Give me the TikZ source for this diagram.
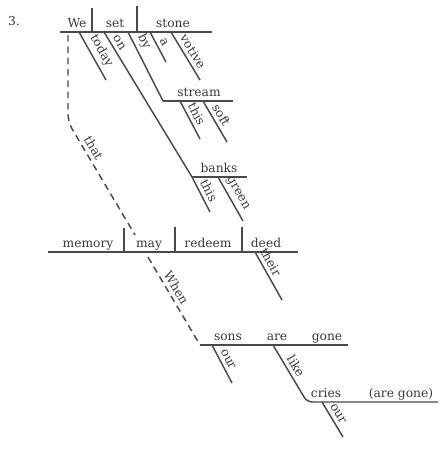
\documentclass[tikz,border=0pt]{standalone}
\usepackage{fontspec}
\setmainfont{DejaVu Serif}
\definecolor{ink}{HTML}{4A4A4A}
\definecolor{print}{HTML}{3A3A3A}
\begin{document}
\begin{tikzpicture}[
		x=0.75pt, y=-0.75pt,
		font=\fontsize{9.2}{11}\selectfont,
		w/.style = {anchor=base, inner sep=0pt, text=print},
		m/.style = {sloped, above, inner sep=2.6pt, text=print},
		l/.style = {draw=ink, line width=1.1pt},
		d/.style = {draw=ink, line width=1.1pt, dash pattern=on 5pt off 3.5pt, rounded corners=6pt}
		]
		\useasboundingbox (0,0) rectangle (442,450);
		
		% === === Points === ===
		\coordinate	(top-l)		at	(60, 32);
		\coordinate	(top-r)		at	(212, 32);
		\coordinate	(dv1-t)		at	(92, 8);
		\coordinate	(dv1-b)		at	(92, 32);
		\coordinate	(dv2-t)		at	(137, 6);
		\coordinate	(dv2-b)		at	(137, 32);
		\coordinate	(today-a)	at	(79, 32);
		\coordinate	(today-b)	at	(106, 80);
		\coordinate	(on-a)		at	(104, 32);
		\coordinate	(by-a)		at	(128, 32);
		\coordinate	(a-a)		at	(150, 32);
		\coordinate	(a-b)		at	(166, 62);
		\coordinate	(vot-a)		at	(171, 32);
		\coordinate	(vot-b)		at	(200, 80);
		
		\coordinate	(str-l)		at	(163, 101);
		\coordinate	(str-r)		at	(233, 101);
		\coordinate	(this1-a)	at	(180, 101);
		\coordinate	(this1-b)	at	(200, 139);
		\coordinate	(soft-a)	at	(203, 101);
		\coordinate	(soft-b)	at	(227, 142);
		
		\coordinate	(bnk-l)		at	(192, 177);
		\coordinate	(bnk-r)		at	(247, 177);
		\coordinate	(this2-b)	at	(210, 212);
		\coordinate	(grn-a)		at	(218, 177);
		\coordinate	(grn-b)		at	(243, 221);
		
		\coordinate	(that-a)	at	(68, 35);
		\coordinate	(that-k)	at	(68, 122);
		\coordinate	(that-b)	at	(135, 235);
		
		\coordinate	(mem-l)		at	(48, 252);
		\coordinate	(mem-r)		at	(298, 252);
		\coordinate	(dv3-t)		at	(124, 228);
		\coordinate	(dv3-b)		at	(124, 252);
		\coordinate	(dv4-t)		at	(175, 227);
		\coordinate	(dv4-b)		at	(175, 252);
		\coordinate	(dv5-t)		at	(242, 227);
		\coordinate	(dv5-b)		at	(242, 252);
		\coordinate	(their-a)	at	(255, 252);
		\coordinate	(their-b)	at	(282, 300);
		
		\coordinate	(when-a)	at	(148, 257);
		\coordinate	(sons-l)	at	(200, 345);
		\coordinate	(sons-r)	at	(348, 345);
		\coordinate	(our1-a)	at	(212, 345);
		\coordinate	(our1-b)	at	(232, 383);
		\coordinate	(like-a)	at	(273, 345);
		\coordinate	(cry-l)		at	(307, 402);
		\coordinate	(cry-r)		at	(438, 402);
		\coordinate	(our2-a)	at	(322, 402);
		\coordinate	(our2-b)	at	(343, 437);
		
		% === === Words === ===
		\node[w]	(num)		at	(14, 25)		{3.};
		\node[w]	(we)		at	(77, 27)		{We};
		\node[w]	(set)		at	(115, 27)		{set};
		\node[w]	(stone)		at	(173, 27)		{stone};
		\node[w]	(stream)	at	(199, 96)		{stream};
		\node[w]	(banks)		at	(219, 172)		{banks};
		\node[w]	(memory)	at	(88, 247)		{memory};
		\node[w]	(may)		at	(149, 247)		{may};
		\node[w]	(redeem)	at	(208, 247)		{redeem};
		\node[w]	(deed)		at	(266, 247)		{deed};
		\node[w]	(sons)		at	(228, 340)		{sons};
		\node[w]	(are)		at	(277, 340)		{are};
		\node[w]	(gone)		at	(327, 340)		{gone};
		\node[w]	(cries)		at	(326, 397)		{cries};
		\node[w]	(aregone)	at	(401, 397)		{(are gone)};
		
		% === === Lines === ===
		\draw[l]	(top-l)		--	(top-r);
		\draw[l]	(dv1-t)		--	(dv1-b);
		\draw[l]	(dv2-t)		--	(dv2-b);
		\draw[l]	(today-a)	--	node[m, pos=0.5]	(today)		{today}		(today-b);
		\draw[l]	(on-a)		--	node[m, pos=0.1]	(on)		{on}		(bnk-l);
		\draw[l]	(by-a)		--	node[m, pos=0.2]	(by)		{by}		(str-l);
		\draw[l]	(a-a)		--	node[m, pos=0.45]	(a)			{a}			(a-b);
		\draw[l]	(vot-a)		--	node[m, pos=0.5]	(votive)	{votive}	(vot-b);
		
		\draw[l]	(str-l)		--	(str-r);
		\draw[l]	(this1-a)	--	node[m, pos=0.45]	(this1)		{this}		(this1-b);
		\draw[l]	(soft-a)	--	node[m, pos=0.45]	(soft)		{soft}		(soft-b);
		
		\draw[l]	(bnk-l)		--	(bnk-r);
		\draw[l]	(bnk-l)		--	node[m, pos=0.5]	(this2)		{this}		(this2-b);
		\draw[l]	(grn-a)		--	node[m, pos=0.47]	(green)		{green}		(grn-b);
		
		\draw[d]	(that-a) -- (that-k) -- node[m, pos=0.27] (that) {that} (that-b);
		
		\draw[l]	(mem-l)		--	(mem-r);
		\draw[l]	(dv3-t)		--	(dv3-b);
		\draw[l]	(dv4-t)		--	(dv4-b);
		\draw[l]	(dv5-t)		--	(dv5-b);
		\draw[l]	(their-a)	--	node[m, pos=0.3]	(their)		{their}		(their-b);
		
		\draw[d]	(when-a)	--	node[m, pos=0.4]	(when)		{When}		(sons-l);
		\draw[l]	(sons-l)	--	(sons-r);
		\draw[l]	(our1-a)	--	node[m, pos=0.47]	(our1)		{our}		(our1-b);
		\draw[l, rounded corners=4pt] (like-a) -- node[m, pos=0.45] (like) {like} (cry-l) -- (cry-r);
		\draw[l]	(our2-a)	--	node[m, pos=0.45]	(our2)		{our}		(our2-b);
		
	\end{tikzpicture}
\end{document}
